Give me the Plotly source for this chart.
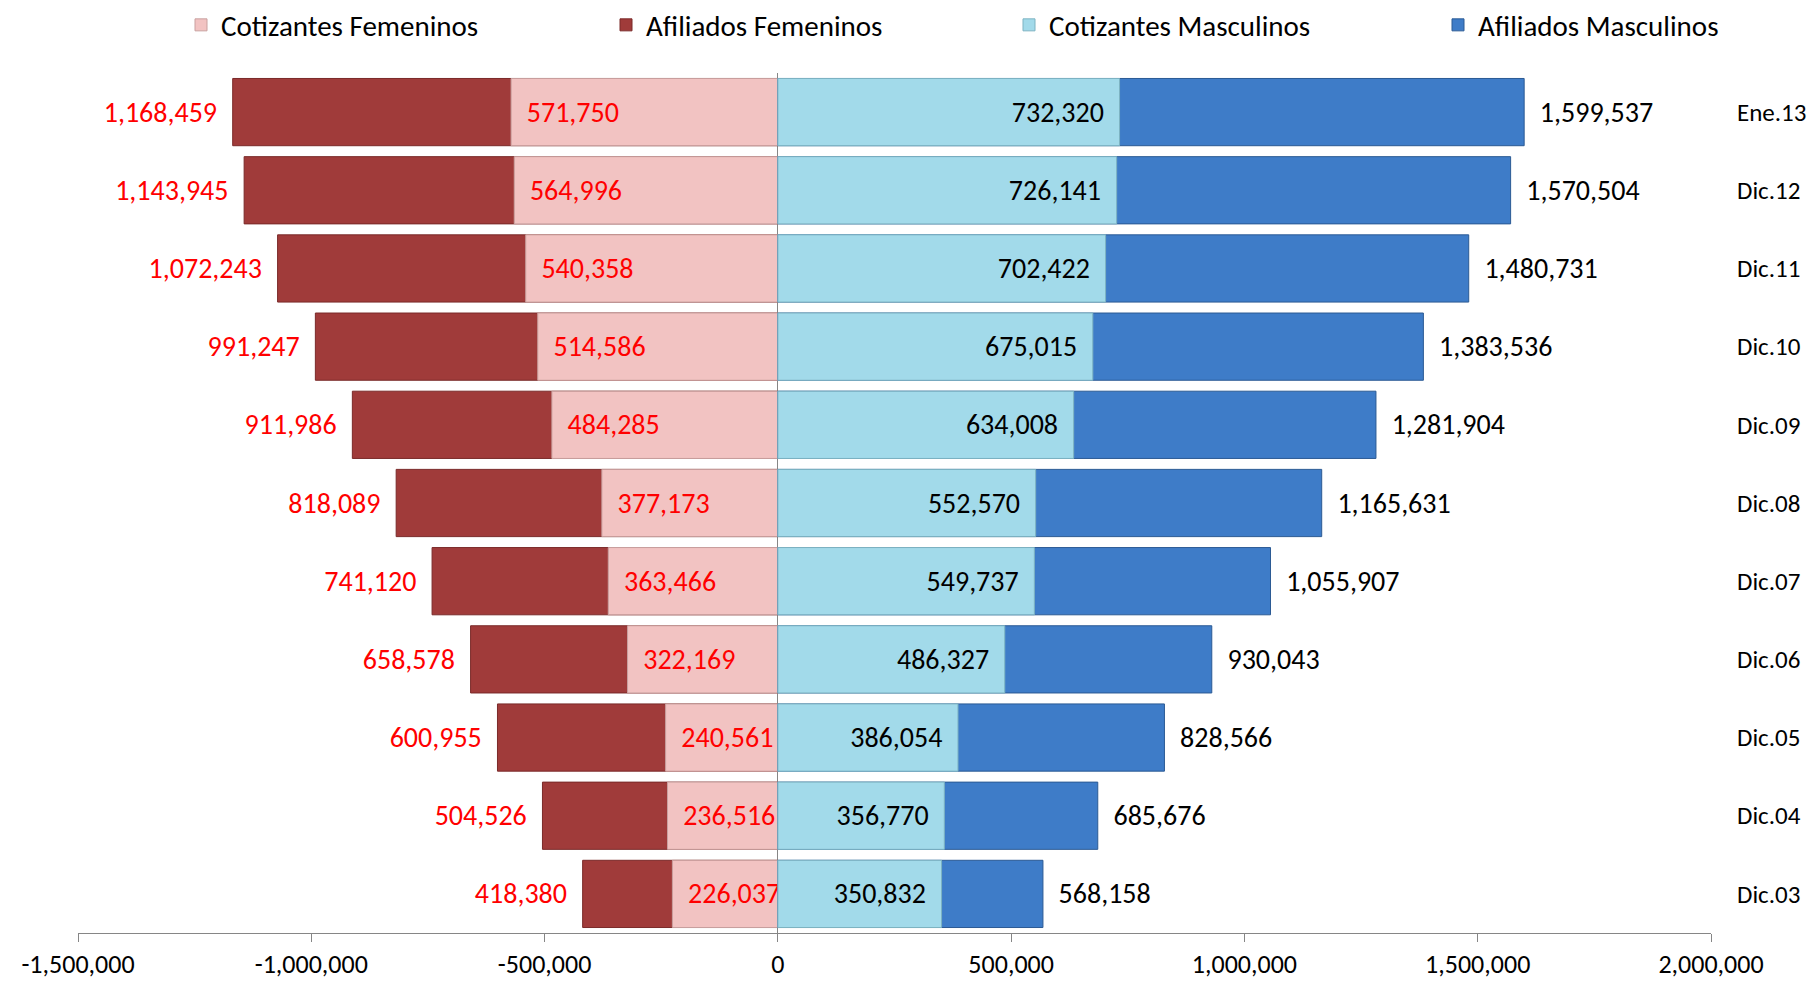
import plotly.graph_objects as go

categories = ["Dic.03", "Dic.04", "Dic.05", "Dic.06", "Dic.07", "Dic.08",
              "Dic.09", "Dic.10", "Dic.11", "Dic.12", "Ene.13"]
afiliados_fem = [418380, 504526, 600955, 658578, 741120, 818089,
                 911986, 991247, 1072243, 1143945, 1168459]
cotizantes_fem = [226037, 236516, 240561, 322169, 363466, 377173,
                  484285, 514586, 540358, 564996, 571750]
cotizantes_masc = [350832, 356770, 386054, 486327, 549737, 552570,
                   634008, 675015, 702422, 726141, 732320]
afiliados_masc = [568158, 685676, 828566, 930043, 1055907, 1165631,
                  1281904, 1383536, 1480731, 1570504, 1599537]
tick_values = [-1500000, -1000000, -500000, 0, 500000, 1000000, 1500000, 2000000]
tick_labels = ["-1,500,000", "-1,000,000", "-500,000", "0", "500,000",
               "1,000,000", "1,500,000", "2,000,000"]

FONT = "Carlito, Open Sans, sans-serif"
NB = "\u00a0"
fmt = lambda v: f"{v:,}"
BW = 0.86
LBL = 28

fig = go.Figure()

fig.add_trace(go.Bar(
    name="Afiliados Femeninos", y=categories, x=[-v for v in afiliados_fem],
    orientation="h", width=BW, legend="legend2",
    marker=dict(color="#A03B3A", line=dict(color="#7A2A29", width=1)),
    text=[fmt(v) + NB * 2 for v in afiliados_fem], textposition="outside",
    textangle=0, constraintext="none",
    outsidetextfont=dict(color="#FF0000", size=LBL, family=FONT),
    hoverinfo="skip"))

fig.add_trace(go.Bar(
    name="Cotizantes Femeninos", y=categories, x=[-v for v in cotizantes_fem],
    orientation="h", width=BW, legend="legend",
    marker=dict(color="#F2C3C2", line=dict(color="#C9A09F", width=1)),
    text=[NB * 2 + fmt(v) for v in cotizantes_fem], textposition="inside",
    insidetextanchor="end", textangle=0, constraintext="none",
    insidetextfont=dict(color="#FF0000", size=LBL, family=FONT),
    hoverinfo="skip"))

fig.add_trace(go.Bar(
    name="Afiliados Masculinos", y=categories, x=afiliados_masc,
    orientation="h", width=BW, legend="legend4",
    marker=dict(color="#3E7CC8", line=dict(color="#2B5A94", width=1)),
    text=[NB * 2 + fmt(v) for v in afiliados_masc], textposition="outside",
    textangle=0, constraintext="none",
    outsidetextfont=dict(color="#000000", size=LBL, family=FONT),
    hoverinfo="skip"))

fig.add_trace(go.Bar(
    name="Cotizantes Masculinos", y=categories, x=cotizantes_masc,
    orientation="h", width=BW, legend="legend3",
    marker=dict(color="#A2DAEA", line=dict(color="#7DB3C2", width=1)),
    text=[fmt(v) + NB * 2 for v in cotizantes_masc], textposition="inside",
    insidetextanchor="end", textangle=0, constraintext="none",
    insidetextfont=dict(color="#000000", size=LBL, family=FONT),
    hoverinfo="skip"))

fig.update_traces(cliponaxis=False)

def leg(xpx):
    return dict(orientation="h", x=xpx / 1811, xref="container", xanchor="left",
                y=1 - 25 / 982, yref="container", yanchor="middle",
                font=dict(size=29, family=FONT, color="black"),
                bgcolor="rgba(0,0,0,0)", itemwidth=30)

fig.update_layout(
    width=1811, height=982,
    barmode="overlay",
    paper_bgcolor="white", plot_bgcolor="white",
    font=dict(family=FONT, size=26, color="black"),
    margin=dict(l=78, r=100, t=73, b=49),
    showlegend=True,
    legend=leg(181), legend2=leg(606), legend3=leg(1009), legend4=leg(1438),
    xaxis=dict(range=[-1500000, 2000000], tickvals=tick_values, ticktext=tick_labels,
               showgrid=False, showline=True, linecolor="#868686", linewidth=1,
               ticks="outside", ticklen=8, tickcolor="#868686",
               zeroline=True, zerolinecolor="#868686", zerolinewidth=1,
               tickfont=dict(size=26, family=FONT), automargin=False),
    yaxis=dict(type="category", categoryorder="array", categoryarray=categories,
               range=[-0.5, 10.5], side="right", showgrid=False, showline=False,
               ticks="", ticklabelstandoff=25, zeroline=False,
               tickfont=dict(size=25, family=FONT), automargin=False),
)

fig.write_html("out.html", config={"displayModeBar": False},
               post_script="document.body.style.margin='0';document.body.style.padding='0';")
